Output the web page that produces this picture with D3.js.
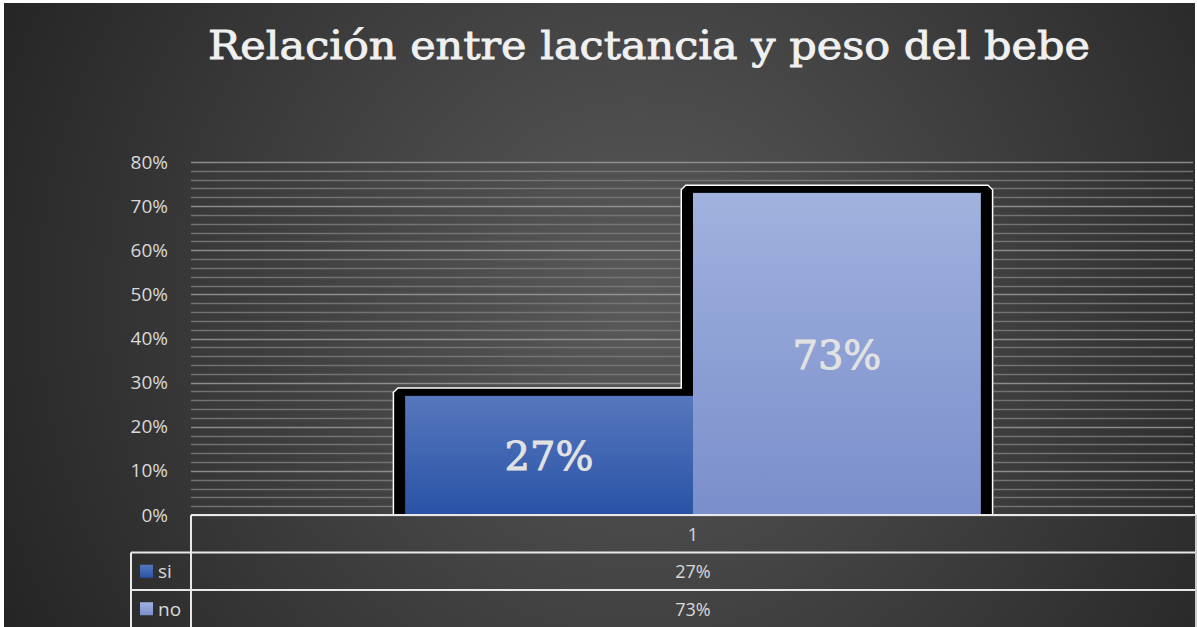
<!DOCTYPE html>
<html>
<head>
<meta charset="utf-8">
<script src="https://cdn.jsdelivr.net/npm/d3@7"></script>
<style>
  body { margin: 0; background: #ffffff; }
  text { font-family: "Open Sans", "Noto Sans", sans-serif; }
</style>
</head>
<body>
<div id="wrapper"></div>
<script>
const title = "Relación entre lactancia y peso del bebe"
const categories = ["1"]
const seriesNames = ["si", "no"]
const seriesValues = [0.27, 0.73]
const yTicks = [0, 0.1, 0.2, 0.3, 0.4, 0.5, 0.6, 0.7, 0.8]

function drawChart() {
  const dataset = seriesNames.map((name, i) => ({ name, value: seriesValues[i] }))
  const yAccessor = d => d.value

  // dimensions
  let dimensions = {
    width: 1197,
    height: 627,
    margin: { top: 162, right: 2, bottom: 112, left: 191 }
  }
  dimensions.boundedWidth = dimensions.width - dimensions.margin.left - dimensions.margin.right
  dimensions.boundedHeight = dimensions.height - dimensions.margin.top - dimensions.margin.bottom

  const wrapper = d3.select("#wrapper")
    .append("svg")
      .attr("width", dimensions.width)
      .attr("height", dimensions.height)

  const defs = wrapper.append("defs")
  const bg = defs.append("radialGradient")
    .attr("id", "bg")
    .attr("gradientUnits", "userSpaceOnUse")
    .attr("cx", 640).attr("cy", 300).attr("r", 720)
  bg.append("stop").attr("offset", "0%").attr("stop-color", "#5a5a5a")
  bg.append("stop").attr("offset", "100%").attr("stop-color", "#242424")

  const fills = [["#5777bd", "#2953a6"], ["#a1b2de", "#7a8ecb"]]
  fills.forEach((f, i) => {
    const g = defs.append("linearGradient")
      .attr("id", `fill${i}`)
      .attr("x1", 0).attr("y1", 0).attr("x2", 0).attr("y2", 1)
    g.append("stop").attr("offset", "0%").attr("stop-color", f[0])
    g.append("stop").attr("offset", "100%").attr("stop-color", f[1])
  })

  wrapper.append("rect")
    .attr("x", 4).attr("y", 3)
    .attr("width", 1191).attr("height", 624)
    .attr("fill", "url(#bg)")

  wrapper.append("text")
    .attr("x", 649)
    .attr("y", 59)
    .attr("text-anchor", "middle")
    .attr("textLength", 882)
    .attr("lengthAdjust", "spacingAndGlyphs")
    .style("font-family", "'DejaVu Serif', 'Liberation Serif', serif")
    .style("font-size", "40px")
    .attr("fill", "#f0f0f0")
    .attr("stroke", "#f0f0f0")
    .attr("stroke-width", 0.9)
    .text(title)

  const bounds = wrapper.append("g")
    .attr("transform", `translate(${dimensions.margin.left}, ${dimensions.margin.top})`)

  // scales
  const yScale = d3.scaleLinear()
    .domain([0, 0.8])
    .range([dimensions.boundedHeight, 0])

  const xScale = d3.scaleBand()
    .domain(categories)
    .range([0, dimensions.boundedWidth])
    .paddingInner(0)
    .paddingOuter(0.372)

  const seriesScale = d3.scaleBand()
    .domain(seriesNames)
    .range([0, xScale.bandwidth()])

  // gridlines
  const minor = d3.range(0, 0.8001, 0.02)
  bounds.append("g").selectAll("line")
    .data(minor)
    .join("line")
      .attr("x1", 0)
      .attr("x2", dimensions.boundedWidth - 2)
      .attr("y1", d => Math.round(yScale(d)) + 0.5)
      .attr("y2", d => Math.round(yScale(d)) + 0.5)
      .attr("stroke", d => Math.abs(d * 10 - Math.round(d * 10)) < 1e-6 ? "#9a9a9a" : "#7c7c7c")
      .attr("stroke-width", 1.5)
      .attr("opacity", 0.85)

  // bars
  const border = 11
  const topBorder = 7
  const barX = d => xScale(categories[0]) + seriesScale(d.name)
  const barGroup = bounds.append("g")

  // white outlines, then black frames, then fills
  barGroup.selectAll(".outline")
    .data(dataset.slice().reverse())
    .join("path")
      .attr("class", "outline")
      .attr("d", d => frame(barX(d) - border - 1.5, yScale(yAccessor(d)) - topBorder - 1.5,
                            seriesScale.bandwidth() + 2 * border + 3, 5))
      .attr("fill", "#ffffff")

  barGroup.selectAll(".frame")
    .data(dataset.slice().reverse())
    .join("path")
      .attr("class", "frame")
      .attr("d", d => frame(barX(d) - border, yScale(yAccessor(d)) - topBorder,
                            seriesScale.bandwidth() + 2 * border, 4))
      .attr("fill", "#000000")

  function frame(x, y, w, r) {
    const b = dimensions.boundedHeight
    return `M${x},${b} L${x},${y + r} L${x + r},${y} L${x + w - r},${y} L${x + w},${y + r} L${x + w},${b} Z`
  }

  barGroup.selectAll(".bar")
    .data(dataset)
    .join("rect")
      .attr("class", "bar")
      .attr("x", d => barX(d))
      .attr("y", d => yScale(yAccessor(d)))
      .attr("width", seriesScale.bandwidth())
      .attr("height", d => dimensions.boundedHeight - yScale(yAccessor(d)))
      .attr("fill", (d, i) => `url(#fill${i})`)

  barGroup.selectAll(".bar-label")
    .data(dataset)
    .join("text")
      .attr("class", "bar-label")
      .attr("x", d => barX(d) + seriesScale.bandwidth() / 2)
      .attr("y", d => (yScale(yAccessor(d)) + dimensions.boundedHeight) / 2 + 15)
      .attr("text-anchor", "middle")
      .style("font-family", "'DejaVu Serif', 'Liberation Serif', serif")
      .style("font-size", "40px")
      .attr("fill", "#e2e2e2")
      .attr("stroke", "#e2e2e2")
      .attr("stroke-width", 0.9)
      .text(d => d3.format(".0%")(yAccessor(d)))

  // y axis
  const yAxisGenerator = d3.axisLeft(yScale)
    .tickValues(yTicks)
    .tickFormat(d3.format(".0%"))
    .tickSize(0)
    .tickPadding(23)
  const yAxis = bounds.append("g").call(yAxisGenerator)
  yAxis.select(".domain").remove()
  yAxis.selectAll("text")
    .attr("fill", "#d9d9d9")
    .style("font-size", "19px")
    .style("font-family", "'Open Sans', sans-serif")

  // data table
  const table = bounds.append("g")
    .attr("transform", `translate(0, ${dimensions.boundedHeight})`)
  const rowH = 37.5
  const tableLeft = -60
  const lineColor = "#e8e8e8"

  const hLines = [
    { y: 0, x1: 0 },
    { y: rowH, x1: tableLeft },
    { y: 2 * rowH, x1: tableLeft }
  ]
  table.selectAll(".hline")
    .data(hLines)
    .join("line")
      .attr("class", "hline")
      .attr("x1", d => d.x1)
      .attr("x2", dimensions.boundedWidth + 1)
      .attr("y1", d => d.y)
      .attr("y2", d => d.y)
      .attr("stroke", lineColor)
      .attr("stroke-width", 2)

  table.append("line")
    .attr("x1", 0).attr("x2", 0)
    .attr("y1", 0).attr("y2", dimensions.margin.bottom)
    .attr("stroke", lineColor).attr("stroke-width", 2)
  table.append("line")
    .attr("x1", tableLeft).attr("x2", tableLeft)
    .attr("y1", rowH).attr("y2", dimensions.margin.bottom)
    .attr("stroke", lineColor).attr("stroke-width", 2)
  table.append("line")
    .attr("x1", dimensions.boundedWidth + 1).attr("x2", dimensions.boundedWidth + 1)
    .attr("y1", 0).attr("y2", dimensions.margin.bottom)
    .attr("stroke", "#bdbdbd").attr("stroke-width", 1.5)

  const cellX = xScale(categories[0]) + xScale.bandwidth() / 2
  table.append("text")
    .attr("x", cellX)
    .attr("y", rowH / 2 + 7)
    .attr("text-anchor", "middle")
    .attr("fill", "#d9d9d9")
    .style("font-size", "18px")
    .text(categories[0])

  const rows = table.selectAll(".row")
    .data(dataset)
    .join("g")
      .attr("class", "row")
      .attr("transform", (d, i) => `translate(0, ${rowH * (i + 1)})`)

  rows.append("rect")
    .attr("x", tableLeft + 9)
    .attr("y", rowH / 2 - 6.5)
    .attr("width", 13)
    .attr("height", 13)
    .attr("fill", (d, i) => `url(#fill${i})`)

  rows.append("text")
    .attr("x", tableLeft + 27)
    .attr("y", rowH / 2 + 7)
    .attr("fill", "#d9d9d9")
    .style("font-size", "19px")
    .text(d => d.name)

  rows.append("text")
    .attr("x", cellX)
    .attr("y", rowH / 2 + 7)
    .attr("text-anchor", "middle")
    .attr("fill", "#d9d9d9")
    .style("font-size", "18px")
    .text(d => d3.format(".0%")(yAccessor(d)))
}

drawChart()
</script>
</body>
</html>
